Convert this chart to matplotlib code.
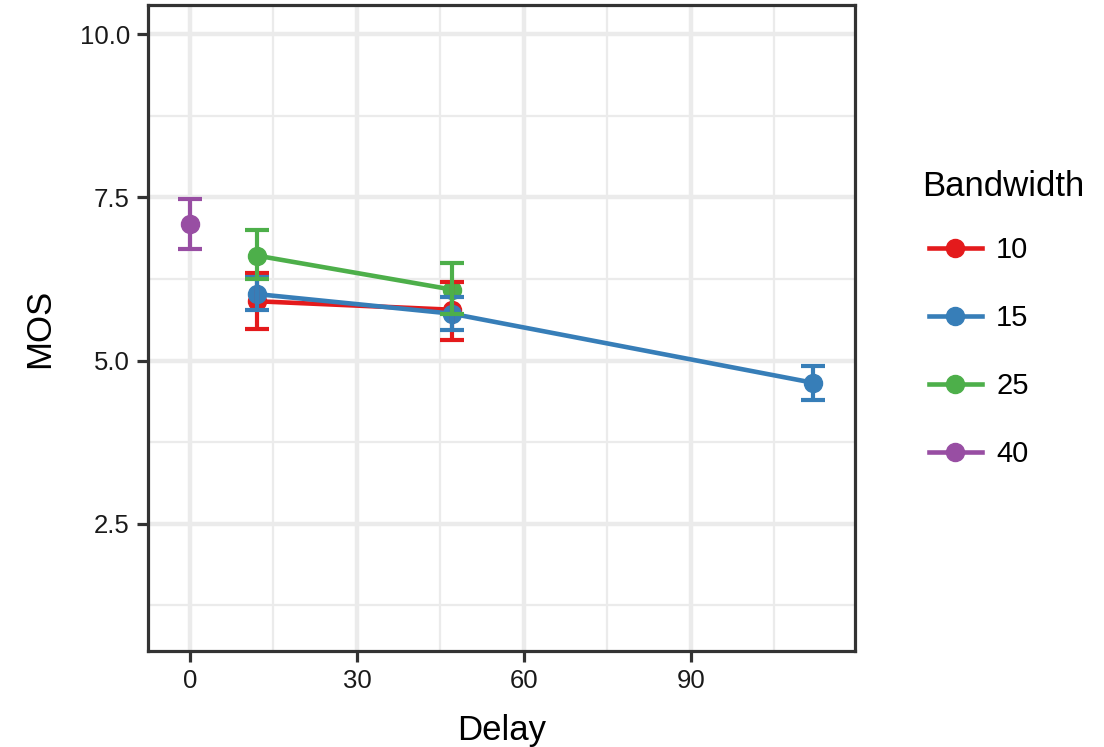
import matplotlib
matplotlib.use("Agg")
import matplotlib.pyplot as plt
from matplotlib.ticker import MultipleLocator

plt.rcParams['font.family'] = ['Liberation Sans', 'DejaVu Sans']

# Data
bandwidths = ["10", "15", "25", "40"]
colors = ["#E41A1C", "#377EB8", "#4DAF4A", "#984EA3"]

delay_10 = [12, 47]
mos_10 = [5.91, 5.78]
lo_10 = [5.48, 5.31]
hi_10 = [6.35, 6.21]

delay_15 = [12, 47, 112]
mos_15 = [6.02, 5.72, 4.66]
lo_15 = [5.77, 5.47, 4.40]
hi_15 = [6.28, 5.97, 4.92]

delay_25 = [12, 47]
mos_25 = [6.61, 6.09]
lo_25 = [6.25, 5.71]
hi_25 = [7.00, 6.50]

delay_40 = [0]
mos_40 = [7.09]
lo_40 = [6.71]
hi_40 = [7.48]

series = [
    (delay_10, mos_10, lo_10, hi_10),
    (delay_15, mos_15, lo_15, hi_15),
    (delay_25, mos_25, lo_25, hi_25),
    (delay_40, mos_40, lo_40, hi_40),
]

x_ticks = [0, 30, 60, 90]
y_ticks = [2.5, 5.0, 7.5, 10.0]

fig = plt.figure(figsize=(11.04, 7.47), dpi=100)
ax = fig.add_axes([148/1104, 1 - 651/747, (855-148)/1104, (651-5)/747])

ax.set_xlim(-7.55, 119.5)
ax.set_ylim(0.55, 10.45)

ax.set_xticks(x_ticks)
ax.set_yticks(y_ticks)
ax.set_yticklabels([f"{v:.1f}" for v in y_ticks])
ax.xaxis.set_minor_locator(MultipleLocator(15))
ax.yaxis.set_minor_locator(MultipleLocator(1.25))

ax.grid(which='major', color='#EBEBEB', linewidth=3.2, zorder=0)
ax.grid(which='minor', color='#EBEBEB', linewidth=1.6, zorder=0)
ax.set_axisbelow(True)

for s in ax.spines.values():
    s.set_color('#333333')
    s.set_linewidth(2.3)

ax.tick_params(which='major', length=8, width=2.3, color='#333333',
               labelsize=18.5, labelcolor='#1A1A1A', pad=5)
ax.tick_params(which='minor', length=0)

handles = []
for (x, y, lo, hi), c, lab in zip(series, colors, bandwidths):
    ln, = ax.plot(x, y, color=c, linewidth=3.3, marker='o', markersize=13,
                  zorder=3, label=lab)
    handles.append(ln)

for (x, y, lo, hi), c in zip(series, colors):
    yerr = [[m - l for m, l in zip(y, lo)], [h - m for m, h in zip(y, hi)]]
    ax.errorbar(x, y, yerr=yerr, fmt='none', ecolor=c, elinewidth=3.0,
                capsize=8.3, capthick=3.0, zorder=4)

ax.set_xlabel("Delay", fontsize=25, color='black', labelpad=15)
ax.set_ylabel("MOS", fontsize=25, color='black', labelpad=17)

fig.text(922/1104, 1 - 187/747, "Bandwidth", fontsize=25, color='black',
         ha='left', va='center')

leg = fig.legend(handles=handles, labels=bandwidths,
                 loc='upper left', bbox_to_anchor=(929/1104, 1 - 236/747),
                 frameon=False, fontsize=21,
                 handlelength=1.8, labelspacing=1.37, handletextpad=0.5,
                 borderaxespad=0, borderpad=0)

fig.savefig("out.png", dpi=100)
